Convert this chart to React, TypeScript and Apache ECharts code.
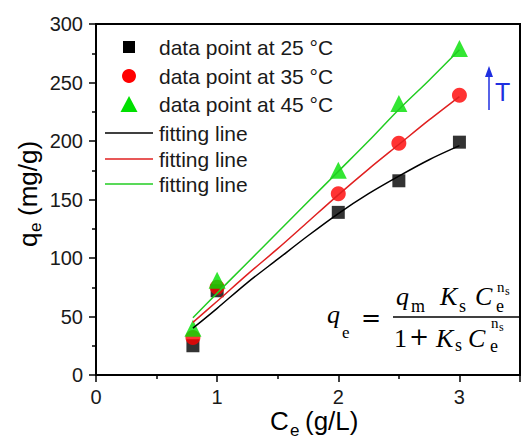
import React, { useEffect, useRef } from 'react';
import * as echarts from 'echarts';

// Measured data points (Ce in g/L, qe in mg/g)
const cePoints = [0.8, 1, 2, 2.5, 3];
const qe25 = [25, 72, 139, 166, 199];
const qe35 = [32, 75, 155, 198, 239];
const qe45 = [40, 81, 175, 232, 279];

// Fitting curves
const ceFit = [0.8, 1, 1.25, 1.5, 1.75, 2, 2.25, 2.5, 2.75, 3];
const fit25 = [40, 57, 79, 99, 119, 138, 155, 170, 184, 196];
const fit35 = [45, 63, 86, 108, 131, 154, 176, 197, 218, 238];
const fit45 = [49, 70, 96, 122, 148, 174, 200, 227, 252, 278];

const seriesNames = ['data point at 25 °C', 'data point at 35 °C', 'data point at 45 °C'];
const fitNames = ['fitting line', 'fitting line', 'fitting line'];

const BLACK = '#000000';
const RED = '#ff0000';
const GREEN = '#00e000';
const RED_LINE = '#e02020';
const GREEN_LINE = '#22cc22';

const SANS = '"Liberation Sans", Arial, sans-serif';
const SERIF = '"Liberation Serif", "Times New Roman", serif';
const DSERIF = '"DejaVu Serif", serif';

const pair = (xs: number[], ys: number[]) => xs.map((x, i) => [x, ys[i]]);

function txt(text: string, x: number, y: number, size: number, opts: any = {}) {
  return {
    type: 'text',
    x,
    y,
    z: 10,
    style: {
      text,
      fontSize: size,
      fontFamily: opts.family || SERIF,
      fontStyle: opts.italic ? 'italic' : 'normal',
      fill: opts.color || '#000',
      align: opts.align || 'left',
      verticalAlign: 'middle',
    },
  };
}

export default function App() {
  const ref = useRef<HTMLDivElement>(null);
  useEffect(() => {
    if (!ref.current) return;
    const chart = echarts.init(ref.current, undefined, { renderer: 'svg' });
    const blue = '#1f2fe0';
    const rows = [47, 76, 104, 133, 159, 184];
    const textX = 159;
    const legendText = '#1a1a1a';
    const option: any = {
      animation: false,
      backgroundColor: '#fff',
      grid: {
        left: 96,
        top: 24,
        width: 436,
        height: 351,
        show: true,
        borderColor: '#000',
        borderWidth: 2,
        backgroundColor: 'transparent',
      },
      xAxis: {
        type: 'value',
        min: 0,
        max: 3.5,
        interval: 1,
        axisLine: { show: true, lineStyle: { color: '#000', width: 2 } },
        axisTick: { show: true, inside: false, length: 7, lineStyle: { width: 1.5, color: '#000' } },
        minorTick: { show: true, splitNumber: 2, length: 4, lineStyle: { width: 1.5, color: '#000' } },
        splitLine: { show: false },
        axisLabel: {
          margin: 12,
          fontSize: 20,
          fontFamily: SANS,
          color: '#1a1a1a',
          formatter: (v: number) => (Number.isInteger(v) ? String(v) : ''),
        },
      },
      yAxis: {
        type: 'value',
        min: 0,
        max: 300,
        interval: 50,
        axisLine: { show: true, lineStyle: { color: '#000', width: 2 } },
        axisTick: { show: true, inside: false, length: 7, lineStyle: { width: 1.5, color: '#000' } },
        minorTick: { show: true, splitNumber: 2, length: 4, lineStyle: { width: 1.5, color: '#000' } },
        splitLine: { show: false },
        axisLabel: { margin: 13, fontSize: 20, fontFamily: SANS, color: '#1a1a1a' },
      },
      series: [
        {
          name: seriesNames[0],
          type: 'scatter',
          symbol: 'rect',
          symbolSize: 13,
          itemStyle: { color: BLACK },
          data: pair(cePoints, qe25),
          z: 2,
        },
        {
          name: seriesNames[1],
          type: 'scatter',
          symbol: 'circle',
          symbolSize: 15,
          itemStyle: { color: RED },
          data: pair(cePoints, qe35),
          z: 3,
        },
        {
          name: seriesNames[2],
          type: 'scatter',
          symbol: 'triangle',
          symbolSize: 17,
          itemStyle: { color: GREEN },
          data: pair(cePoints, qe45),
          z: 4,
        },
        {
          name: 'fit 25',
          type: 'line',
          symbol: 'none',
          smooth: 0.3,
          lineStyle: { color: BLACK, width: 1.5 },
          itemStyle: { color: BLACK },
          data: pair(ceFit, fit25),
          z: 5,
        },
        {
          name: 'fit 35',
          type: 'line',
          symbol: 'none',
          smooth: 0.3,
          lineStyle: { color: RED_LINE, width: 1.5 },
          itemStyle: { color: RED_LINE },
          data: pair(ceFit, fit35),
          z: 5,
        },
        {
          name: 'fit 45',
          type: 'line',
          symbol: 'none',
          smooth: 0.3,
          lineStyle: { color: GREEN_LINE, width: 1.5 },
          itemStyle: { color: GREEN_LINE },
          data: pair(ceFit, fit45),
          z: 5,
        },
      ],
      graphic: [
        // Legend (drawn manually for exact icon shapes)
        { type: 'rect', shape: { x: 123, y: rows[0] - 6, width: 12, height: 12 }, style: { fill: BLACK } },
        { type: 'circle', shape: { cx: 129, cy: rows[1], r: 7 }, style: { fill: RED } },
        {
          type: 'polygon',
          shape: { points: [[129, rows[2] - 8], [120.5, rows[2] + 8], [137.5, rows[2] + 8]] },
          style: { fill: GREEN },
        },
        { type: 'line', shape: { x1: 105, y1: rows[3], x2: 153, y2: rows[3] }, style: { stroke: BLACK, lineWidth: 1.5 } },
        { type: 'line', shape: { x1: 105, y1: rows[4], x2: 153, y2: rows[4] }, style: { stroke: RED_LINE, lineWidth: 1.5 } },
        { type: 'line', shape: { x1: 105, y1: rows[5], x2: 153, y2: rows[5] }, style: { stroke: GREEN_LINE, lineWidth: 1.5 } },
        txt(seriesNames[0], textX, rows[0], 21, { family: SANS, color: legendText }),
        txt(seriesNames[1], textX, rows[1], 21, { family: SANS, color: legendText }),
        txt(seriesNames[2], textX, rows[2], 21, { family: SANS, color: legendText }),
        txt(fitNames[0], textX, rows[3], 21, { family: SANS, color: legendText }),
        txt(fitNames[1], textX, rows[4], 21, { family: SANS, color: legendText }),
        txt(fitNames[2], textX, rows[5], 21, { family: SANS, color: legendText }),
        // Y axis title (rotated)
        {
          type: 'group',
          x: 28,
          y: 191,
          rotation: Math.PI / 2,
          children: [
            txt('q', -56, 0, 26, { family: SANS }),
            txt('e', -41, 7, 17, { family: SANS }),
            txt('(mg/g)', -25, 0, 26, { family: SANS }),
          ],
        },
        // X axis title
        txt('C', 270, 421, 26, { family: SANS }),
        txt('e', 290, 430, 17, { family: SANS }),
        txt('(g/L)', 305, 421, 26, { family: SANS }),
        // Temperature arrow
        { type: 'line', shape: { x1: 489, y1: 110, x2: 489, y2: 74 }, style: { stroke: blue, lineWidth: 1.5 } },
        { type: 'polygon', shape: { points: [[485, 77], [493, 77], [489, 66]] }, style: { fill: blue } },
        txt('T', 495, 92, 25, { family: SANS, color: blue }),
        // Equation
        txt('q', 327, 314.5, 26, { italic: true }),
        txt('e', 342, 332, 17),
        txt('=', 361, 318, 24, { family: DSERIF }),
        txt('q', 396, 296, 26, { italic: true }),
        txt('m', 411, 306, 18),
        txt('K', 440, 296, 26, { italic: true }),
        txt('s', 459, 306, 18),
        txt('C', 475, 296, 26, { italic: true }),
        txt('e', 496, 306, 18),
        txt('n', 497, 287, 15),
        txt('s', 505, 291, 12),
        { type: 'line', shape: { x1: 393, y1: 317, x2: 520, y2: 317 }, style: { stroke: '#000', lineWidth: 1.5 } },
        txt('1', 394, 338.5, 26),
        txt('+', 409, 337, 24, { family: DSERIF }),
        txt('K', 436, 338.5, 26, { italic: true }),
        txt('s', 455, 345, 18),
        txt('C', 468, 338.5, 26, { italic: true }),
        txt('e', 490, 346, 18),
        txt('n', 491, 323, 15),
        txt('s', 499, 327, 12),
      ],
    };
    chart.setOption(option);
    return () => chart.dispose();
  }, []);
  return (
    <div
      ref={ref}
      style={{ position: 'fixed', left: 0, top: 0, width: 523, height: 438, background: '#fff' }}
    />
  );
}
